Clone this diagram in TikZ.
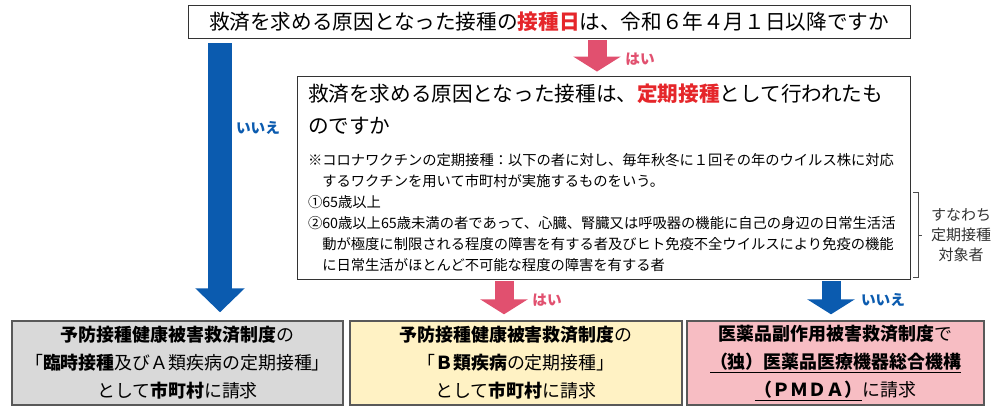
\documentclass[tikz,border=0pt]{standalone}
\usepackage{fontspec}
\setmainfont{Noto Sans CJK JP}
\usetikzlibrary{arrows.meta}
\definecolor{keyred}{HTML}{E5262A}
\definecolor{noblue}{HTML}{0B5BAF}
\definecolor{yespink}{HTML}{E1506F}
\definecolor{boxgrey}{HTML}{D9D9D9}
\definecolor{boxyellow}{HTML}{FFF2C4}
\definecolor{boxpink}{HTML}{F7BDC3}
\definecolor{edgegrey}{HTML}{595959}

\begin{document}
\begin{tikzpicture}[x=0.3mm,y=-0.3mm,
   question/.style={draw=black!80,line width=0.8pt,inner sep=0pt},
   result/.style={draw=edgegrey,line width=1.2pt,minimum height=2.52cm,align=center,inner sep=0pt,
      font=\fontsize{15.3pt}{24pt}\selectfont},
   bigarrow/.style={line width=7.2mm,-{Triangle[length=7.2mm,width=14.4mm]}},
   smallarrow/.style={line width=5.7mm,-{Triangle[length=4.5mm,width=14.1mm]}},
   answer/.style={font=\fontsize{12.5pt}{14pt}\selectfont\bfseries}]
   \useasboundingbox (0,0) rectangle (1000,411);
   % questions
   \node (q1) at (549,21.5) [question,minimum width=21.66cm,minimum height=0.99cm,
      font=\fontsize{17.6pt}{20pt}\selectfont]
      {救済を求める原因となった接種の\textcolor{keyred}{\bfseries 接種日}は、令和６年４月１日以降ですか};
   \node (q2) at (603.5,177.5) [question,text width=17.73cm,inner xsep=3.3mm,minimum height=6.09cm,align=left]
      {{\fontsize{17.6pt}{27.2pt}\selectfont 救済を求める原因となった接種は、\textcolor{keyred}{\bfseries 定期接種}として行われたも\\のですか\par}
       \vspace{9.6pt}
       {\fontsize{12.2pt}{17.9pt}\selectfont ※コロナワクチンの定期接種：以下の者に対し、毎年秋冬に１回その年のウイルス株に対応\\
       \hspace*{1em}するワクチンを用いて市町村が実施するものをいう。\\
       ①65歳以上\\
       ②60歳以上65歳未満の者であって、心臓、腎臓又は呼吸器の機能に自己の身辺の日常生活活\\
       \hspace*{1em}動が極度に制限される程度の障害を有する者及びヒト免疫不全ウイルスにより免疫の機能\\
       \hspace*{1em}に日常生活がほとんど不可能な程度の障害を有する者\par}};
   % results
   \node (res1) at (177.5,363) [result,fill=boxgrey,minimum width=9.93cm]
      {\textbf{予防接種健康被害救済制度}の\\「\textbf{臨時接種}及びＡ類疾病の定期接種」\\として\textbf{市町村}に請求};
   \node (res2) at (516,363) [result,fill=boxyellow,minimum width=9.96cm]
      {\textbf{予防接種健康被害救済制度}の\\「\textbf{Ｂ類疾病}の定期接種」\\として\textbf{市町村}に請求};
   \node (res3) at (835.5,363) [result,fill=boxpink,minimum width=8.91cm]
      {\textbf{医薬品副作用被害救済制度}で\\\underline{\textbf{（独）医薬品医療機器総合機構}}\\\underline{\textbf{（ＰＭＤＡ）}}に請求};
   % brace
   \node (target) at (961,235) [align=center,text=black!80,font=\fontsize{12.8pt}{17pt}\selectfont]
      {すなわち\\定期接種\\対象者};
   \draw[black!70,line width=0.6pt] (913,192) -- (918,192) -- (918,277) -- (913,277)
      (918,235) -- (922,235);
   % arrows
   \coordinate (noA) at (220,38);
   \coordinate (yesA) at (597,38);
   \coordinate (yesB) at (504,279);
   \coordinate (noB) at (831,279);
   \draw[bigarrow,noblue,shorten <=1.5mm,shorten >=2.4mm] (noA) -- (noA |- res1.north);
   \draw[smallarrow,yespink,shorten <=0.6mm,shorten >=1.2mm] (yesA) -- (yesA |- q2.north);
   \draw[smallarrow,yespink,shorten <=0.6mm,shorten >=1.8mm] (yesB) -- (yesB |- res2.north);
   \draw[smallarrow,noblue,shorten <=0.6mm,shorten >=1.8mm] (noB) -- (noB |- res3.north);
   \node (noAlab) at (258,128) [answer,text=noblue] {いいえ};
   \node (yesAlab) at (640,59) [answer,text=yespink] {はい};
   \node (yesBlab) at (547,300) [answer,text=yespink] {はい};
   \node (noBlab) at (883,300) [answer,text=noblue] {いいえ};
\end{tikzpicture}
\end{document}
